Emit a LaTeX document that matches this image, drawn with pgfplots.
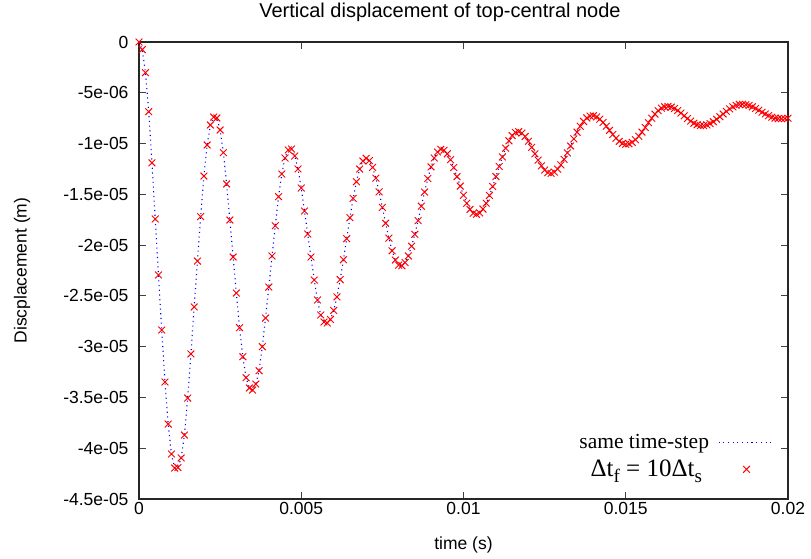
\documentclass[border=0pt]{standalone}
\usepackage{fontspec}
\setmainfont{Liberation Sans}
\newfontfamily\timesf{Liberation Serif}
\usepackage{pgfplots}
\pgfplotsset{compat=1.18}
\usepackage{pgfplotstable}

% t in ms, y in micro-metres
\pgfplotstableread{
t y
0.0 0
0.1 -0.75
0.2 -3.02
0.3 -6.86
0.4 -11.9
0.5 -17.43
0.6 -22.94
0.7 -28.36
0.8 -33.48
0.9 -37.62
1.0 -40.57
1.1 -41.95
1.2 -41.9
1.3 -40.96
1.4 -38.7
1.5 -35.06
1.6 -30.72
1.7 -26.09
1.8 -21.57
1.9 -17.2
2.0 -13.2
2.1 -10.14
2.2 -8.17
2.3 -7.39
2.4 -7.48
2.5 -8.67
2.6 -10.9
2.7 -13.98
2.8 -17.53
2.9 -21.17
3.0 -24.72
3.1 -28.13
3.2 -30.99
3.3 -33.06
3.4 -34.07
3.5 -34.27
3.6 -33.68
3.7 -32.37
3.8 -30.0
3.9 -27.18
4.0 -24.13
4.1 -21.07
4.2 -18.09
4.3 -15.23
4.4 -13.0
4.5 -11.42
4.6 -10.63
4.7 -10.54
4.8 -11.23
4.9 -12.5
5.0 -14.38
5.1 -16.64
5.2 -18.91
5.3 -21.17
5.4 -23.44
5.5 -25.4
5.6 -26.88
5.7 -27.57
5.8 -27.67
5.9 -27.32
6.0 -26.43
6.1 -25.10
6.2 -23.39
6.3 -21.44
6.4 -19.37
6.5 -17.30
6.6 -15.40
6.7 -13.76
6.8 -12.51
6.9 -11.72
7.0 -11.45
7.1 -11.68
7.2 -12.35
7.3 -13.41
7.4 -14.76
7.5 -16.29
7.6 -17.85
7.7 -19.31
7.8 -20.56
7.9 -21.47
8.0 -21.97
8.1 -22.03
8.2 -21.72
8.3 -21.07
8.4 -20.11
8.5 -18.94
8.6 -17.59
8.7 -16.17
8.8 -14.78
8.9 -13.44
9.0 -12.30
9.1 -11.42
9.2 -10.83
9.3 -10.57
9.4 -10.66
9.5 -11.01
9.6 -11.59
9.7 -12.36
9.8 -13.26
9.9 -14.19
10.0 -15.09
10.1 -15.88
10.2 -16.48
10.3 -16.86
10.4 -16.97
10.5 -16.83
10.6 -16.45
10.7 -15.87
10.8 -15.11
10.9 -14.22
11.0 -13.25
11.1 -12.26
11.2 -11.32
11.3 -10.46
11.4 -9.73
11.5 -9.21
11.6 -8.91
11.7 -8.83
11.8 -8.97
11.9 -9.30
12.0 -9.78
12.1 -10.37
12.2 -11.01
12.3 -11.63
12.4 -12.19
12.5 -12.61
12.6 -12.87
12.7 -12.93
12.8 -12.81
12.9 -12.52
13.0 -12.10
13.1 -11.55
13.2 -10.92
13.3 -10.24
13.4 -9.54
13.5 -8.88
13.6 -8.30
13.7 -7.82
13.8 -7.48
13.9 -7.29
14.0 -7.27
14.1 -7.38
14.2 -7.60
14.3 -7.92
14.4 -8.29
14.5 -8.70
14.6 -9.11
14.7 -9.48
14.8 -9.78
14.9 -9.98
15.0 -10.07
15.1 -10.03
15.2 -9.88
15.3 -9.63
15.4 -9.28
15.5 -8.87
15.6 -8.42
15.7 -7.95
15.8 -7.51
15.9 -7.10
16.0 -6.76
16.1 -6.52
16.2 -6.38
16.3 -6.35
16.4 -6.42
16.5 -6.55
16.6 -6.75
16.7 -7.00
16.8 -7.27
16.9 -7.54
17.0 -7.79
17.1 -8.00
17.2 -8.15
17.3 -8.23
17.4 -8.23
17.5 -8.16
17.6 -8.03
17.7 -7.85
17.8 -7.61
17.9 -7.36
18.0 -7.09
18.1 -6.83
18.2 -6.59
18.3 -6.39
18.4 -6.24
18.5 -6.15
18.6 -6.13
18.7 -6.17
18.8 -6.25
18.9 -6.38
19.0 -6.54
19.1 -6.72
19.2 -6.91
19.3 -7.09
19.4 -7.26
19.5 -7.40
19.6 -7.49
19.7 -7.54
19.8 -7.55
19.9 -7.54
20.0 -7.51
}\disp

\begin{document}
\begin{tikzpicture}
\begin{axis}[name=ax, scale only axis, width=649bp, height=457bp,
 xmin=0, xmax=20, ymin=-45, ymax=0,
 xtick={0,5,10,15,20}, xticklabels={0,0.005,0.01,0.015,0.02},
 ytick={-45,-40,-35,-30,-25,-20,-15,-10,-5,0},
 yticklabels={-4.5e-05,-4e-05,-3.5e-05,-3e-05,-2.5e-05,-2e-05,-1.5e-05,-1e-05,-5e-06,0},
 xtick pos=both, ytick pos=both, xticklabel pos=left, yticklabel pos=left,
 tick align=inside, major tick length=7bp,
 tick style={line width=1bp, color=black!75},
 axis line style={line width=1.2bp, color=black!85},
 ticklabel style={font=\fontsize{17.5bp}{20bp}\selectfont},
 yticklabel style={xshift=-7bp},
 xlabel={time (s)}, ylabel={Discplacement (m)},
 label style={font=\fontsize{17.5bp}{20bp}\selectfont},
 xlabel style={at={(axis description cs:0.5,-0.1007)},anchor=center},
 ylabel style={at={(axis description cs:-0.1803,0.5)},anchor=center},
 legend style={at={(axis description cs:0.985,0.036)}, anchor=south east, draw=none, fill=none,
   row sep=6bp, column sep=7bp, font=\timesf\fontsize{21.5bp}{24bp}\selectfont},
 legend cell align=right, legend plot pos=right,
 legend image code/.code={\draw[mark repeat=2,mark phase=2,#1] plot coordinates {(0bp,0bp) (28bp,0bp) (56bp,0bp)};},
]
\addplot[blue, line width=1.1bp, dash pattern=on 1.1bp off 3.6bp] table[x=t,y=y]{\disp};
\addlegendentry{same time-step}
\addplot[only marks, red, mark=x, mark size=4.8bp, mark options={line width=0.95bp}] table[x=t,y=y]{\disp};
\addlegendentry{{\fontsize{25bp}{27bp}\selectfont Δt\raisebox{-0.22em}{\fontsize{19bp}{20bp}\selectfont f} = 10Δt\raisebox{-0.22em}{\fontsize{19bp}{20bp}\selectfont s}}\rule{7bp}{0pt}}
\end{axis}
\node[anchor=center, inner sep=0pt, font=\fontsize{20bp}{22bp}\selectfont] at ([xshift=-23.5bp,yshift=30bp]ax.north) {Vertical displacement of top-central node};
\pgfresetboundingbox
\path[use as bounding box] ([xshift=-139bp,yshift=-60bp]ax.south west) rectangle ([xshift=23bp,yshift=42bp]ax.north east);
\end{tikzpicture}
\end{document}
